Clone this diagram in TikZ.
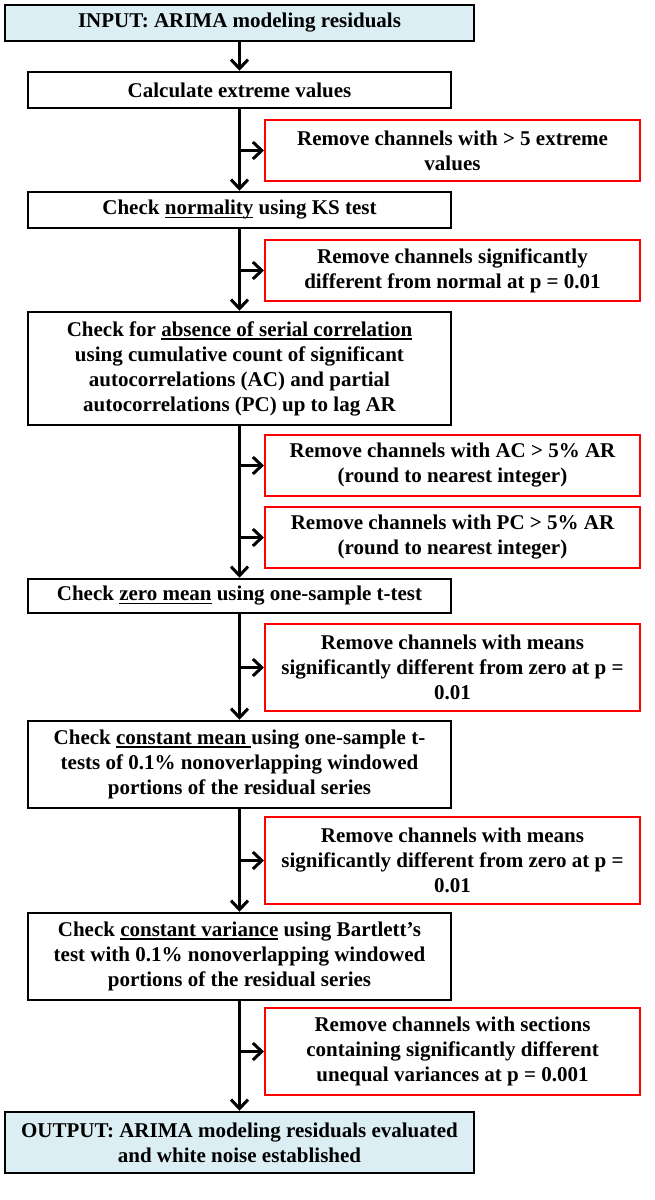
\documentclass[tikz,border=0pt]{standalone}
\usepackage{fontspec}
\setmainfont{Liberation Serif}
\newcommand{\ulword}[1]{\setbox0\hbox{#1}\rlap{\rule[-3.5pt]{\wd0}{1.6pt}}\box0\relax}
\usetikzlibrary{arrows.meta}
\definecolor{endblue}{HTML}{DAEEF3}

\begin{document}
\begin{tikzpicture}[x=1pt,y=-1pt]
\tikzset{
    box/.style={draw,line width=2.5pt,minimum width=423pt,inner sep=0pt,
        align=center,font=\fontsize{21}{25}\selectfont\bfseries},
    endbox/.style={box,fill=endblue,minimum width=469pt},
    dropbox/.style={box,draw=red,line width=2pt,minimum width=375pt},
    flow/.style={line width=3pt,-{Straight Barb[length=9pt,width=17pt]}}
}
\useasboundingbox (0,0) rectangle (654,1200);
% Boxes
\node[endbox,minimum height=36pt] (inp) at (239.5,23){INPUT: ARIMA modeling residuals};
\node[box,minimum height=36pt] (calc) at (239.5,90){Calculate extreme values};
\node[dropbox,minimum height=61pt] (rmext) at (452.5,150.5){Remove channels with > 5 extreme\\values};
\node[box,minimum height=36pt] (norm) at (239.5,210){Check \ulword{normality} using KS test};
\node[dropbox,minimum height=61pt] (rmnorm) at (452.5,270.5){Remove channels significantly\\different from normal at p = 0.01};
\node[box,minimum height=113pt] (serial) at (239.5,368.5){Check for \ulword{absence of serial correlation}\\using cumulative count of significant\\autocorrelations (AC) and partial\\autocorrelations (PC) up to lag AR};
\node[dropbox,minimum height=61pt] (rmac) at (452.5,465.5){Remove channels with AC > 5\% AR\\(round to nearest integer)};
\node[dropbox,minimum height=61pt] (rmpc) at (452.5,537.5){Remove channels with PC > 5\% AR\\(round to nearest integer)};
\node[box,minimum height=34pt] (zmean) at (239.5,596){Check \ulword{zero mean} using one-sample t-test};
\node[dropbox,minimum height=87pt] (rmzero) at (452.5,667.5){Remove channels with means\\significantly different from zero at p =\\0.01};
\node[box,minimum height=87pt] (cmean) at (239.5,764.5){Check \ulword{constant mean }using one-sample t-\\tests of 0.1\% nonoverlapping windowed\\portions of the residual series};
\node[dropbox,minimum height=87pt] (rmcmean) at (452.5,860.5){Remove channels with means\\significantly different from zero at p =\\0.01};
\node[box,minimum height=87pt] (cvar) at (239.5,956.5){Check \ulword{constant variance} using Bartlett’s\\test with 0.1\% nonoverlapping windowed\\portions of the residual series};
\node[dropbox,minimum height=87pt] (rmvar) at (452.5,1051.5){Remove channels with sections\\containing significantly different\\unequal variances at p = 0.001};
\node[endbox,minimum height=61pt] (outp) at (239.5,1142.5){OUTPUT: ARIMA modeling residuals evaluated\\and white noise established};
% Arrows
\draw[flow](inp.south)--(calc.north);
\draw[flow](calc.south)--(norm.north);
\draw[flow](calc.south|-rmext.west)--(rmext.west);
\draw[flow](norm.south)--(serial.north);
\draw[flow](norm.south|-rmnorm.west)--(rmnorm.west);
\draw[flow](serial.south)--(zmean.north);
\draw[flow](serial.south|-rmac.west)--(rmac.west);
\draw[flow](serial.south|-rmpc.west)--(rmpc.west);
\draw[flow](zmean.south)--(cmean.north);
\draw[flow](zmean.south|-rmzero.west)--(rmzero.west);
\draw[flow](cmean.south)--(cvar.north);
\draw[flow](cmean.south|-rmcmean.west)--(rmcmean.west);
\draw[flow](cvar.south)--(outp.north);
\draw[flow](cvar.south|-rmvar.west)--(rmvar.west);
\end{tikzpicture}
\end{document}
